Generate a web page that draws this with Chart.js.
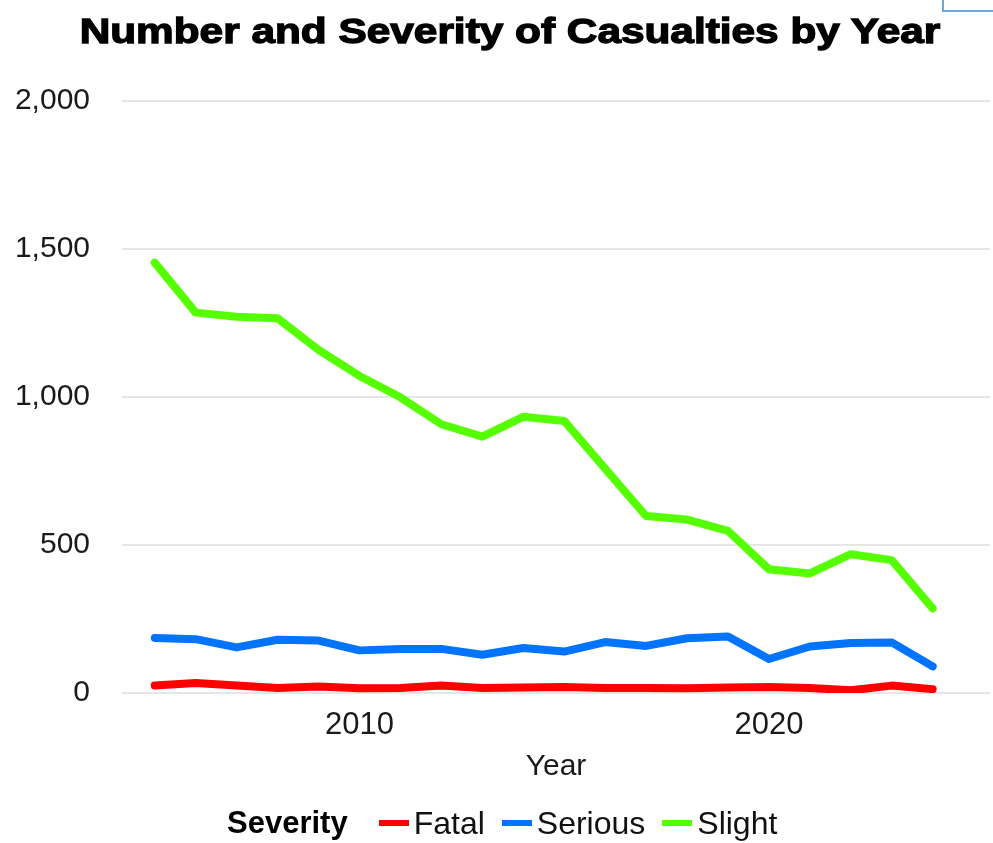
<!DOCTYPE html>
<html>
<head>
<meta charset="utf-8">
<script src="https://cdn.jsdelivr.net/npm/chart.js@4/dist/chart.umd.min.js"></script>
<style>
  html, body { margin:0; padding:0; background:#fff; }
  #wrap { position:relative; width:993px; height:843px; overflow:hidden; font-family:"Liberation Sans", Arial, sans-serif; }
  #chart { position:absolute; left:0; top:0; }
  #title {
    position:absolute; left:510px; top:13px; white-space:nowrap;
    font-size:35px; line-height:36px; font-weight:700; color:#000;
    -webkit-text-stroke:1.3px #000;
    transform:translateX(-50%) scaleX(1.21);
  }
  #legend {
    position:absolute; left:227px; top:807px; height:32px;
    display:flex; align-items:center; font-size:32px; line-height:32px; color:#111;
  }
  #legend b { color:#000; font-size:31px; margin-right:31px; }
  #legend .sw { display:inline-block; width:30px; height:6px; margin-right:5px; }
  #legend .it { display:flex; align-items:center; margin-right:17px; }
  #corner {
    position:absolute; left:942px; top:-2px; width:60px; height:12px;
    border-left:2px solid #6fa8dc; border-bottom:2px solid #6fa8dc;
  }
</style>
</head>
<body>
<div id="wrap">
  <canvas id="chart" width="993" height="843"></canvas>
  <div id="title">Number and Severity of Casualties by Year</div>
  <div id="legend"></div>
  <div id="corner"></div>
</div>
<script>
// casualties per year by severity
const years   = [2005,2006,2007,2008,2009,2010,2011,2012,2013,2014,2015,2016,2017,2018,2019,2020,2021,2022,2023,2024];
const fatal   = [25,34,25,17,22,16,17,25,17,19,20,17,17,16,19,20,17,9,25,13];
const serious = [186,182,154,180,177,144,149,149,129,152,140,172,159,185,191,115,157,169,171,90];
const slight  = [1454,1285,1271,1266,1159,1071,999,908,866,933,919,758,598,586,548,418,404,469,449,286];

const yTicks = [0,500,1000,1500,2000];
const xTicks = [2010,2020];

const seriesNames  = ['Fatal','Serious','Slight'];
const seriesColors = ['#ff0000','#0073ff','#55ff00'];
const seriesData   = [fatal, serious, slight];

const FONT_FAMILY = '"Liberation Sans", Arial, sans-serif';

const datasets = seriesNames.map((name, i) => ({
  label: name,
  data: years.map((y, k) => ({ x: y, y: seriesData[i][k] })),
  borderColor: seriesColors[i],
  backgroundColor: seriesColors[i],
  borderWidth: 8,
  borderCapStyle: 'round',
  borderJoinStyle: 'round',
  pointRadius: 0,
  tension: 0,
  fill: false
}));

const chart = new Chart(document.getElementById('chart').getContext('2d'), {
  type: 'line',
  data: { datasets },
  options: {
    responsive: false,
    animation: false,
    layout: { padding: { top: 101, right: 3, bottom: 50, left: 0 } },
    plugins: {
      legend: { display: false },
      tooltip: { enabled: false },
      title: { display: false }
    },
    scales: {
      x: {
        type: 'linear',
        min: 2004.2,
        max: 2025.4,
        afterBuildTicks: s => { s.ticks = xTicks.map(v => ({ value: v })); },
        afterFit: s => { s.height = 100; },
        grid: { display: false, drawTicks: false },
        border: { display: false },
        ticks: {
          color: '#1a1a1a',
          font: { family: FONT_FAMILY, size: 31 },
          padding: 14,
          maxRotation: 0,
          callback: v => String(v)
        },
        title: {
          display: true,
          text: 'Year',
          color: '#1a1a1a',
          font: { family: FONT_FAMILY, size: 30 },
          padding: { top: 0, bottom: 8 }
        }
      },
      y: {
        min: 0,
        max: 2000,
        afterBuildTicks: s => { s.ticks = yTicks.map(v => ({ value: v })); },
        afterFit: s => { s.width = 122; },
        grid: { color: '#e6e6e6', lineWidth: 2, drawTicks: false },
        border: { display: false },
        ticks: {
          color: '#1a1a1a',
          font: { family: FONT_FAMILY, size: 30 },
          padding: 32,
          callback: v => v.toLocaleString('en-US')
        }
      }
    }
  }
});

// legend row with a bold title in front of the items
const legend = document.getElementById('legend');
legend.innerHTML = '<b>Severity</b>' + chart.data.datasets.map(d =>
  `<span class="it"><span class="sw" style="background:${d.borderColor}"></span>${d.label}</span>`
).join('');
</script>
</body>
</html>
